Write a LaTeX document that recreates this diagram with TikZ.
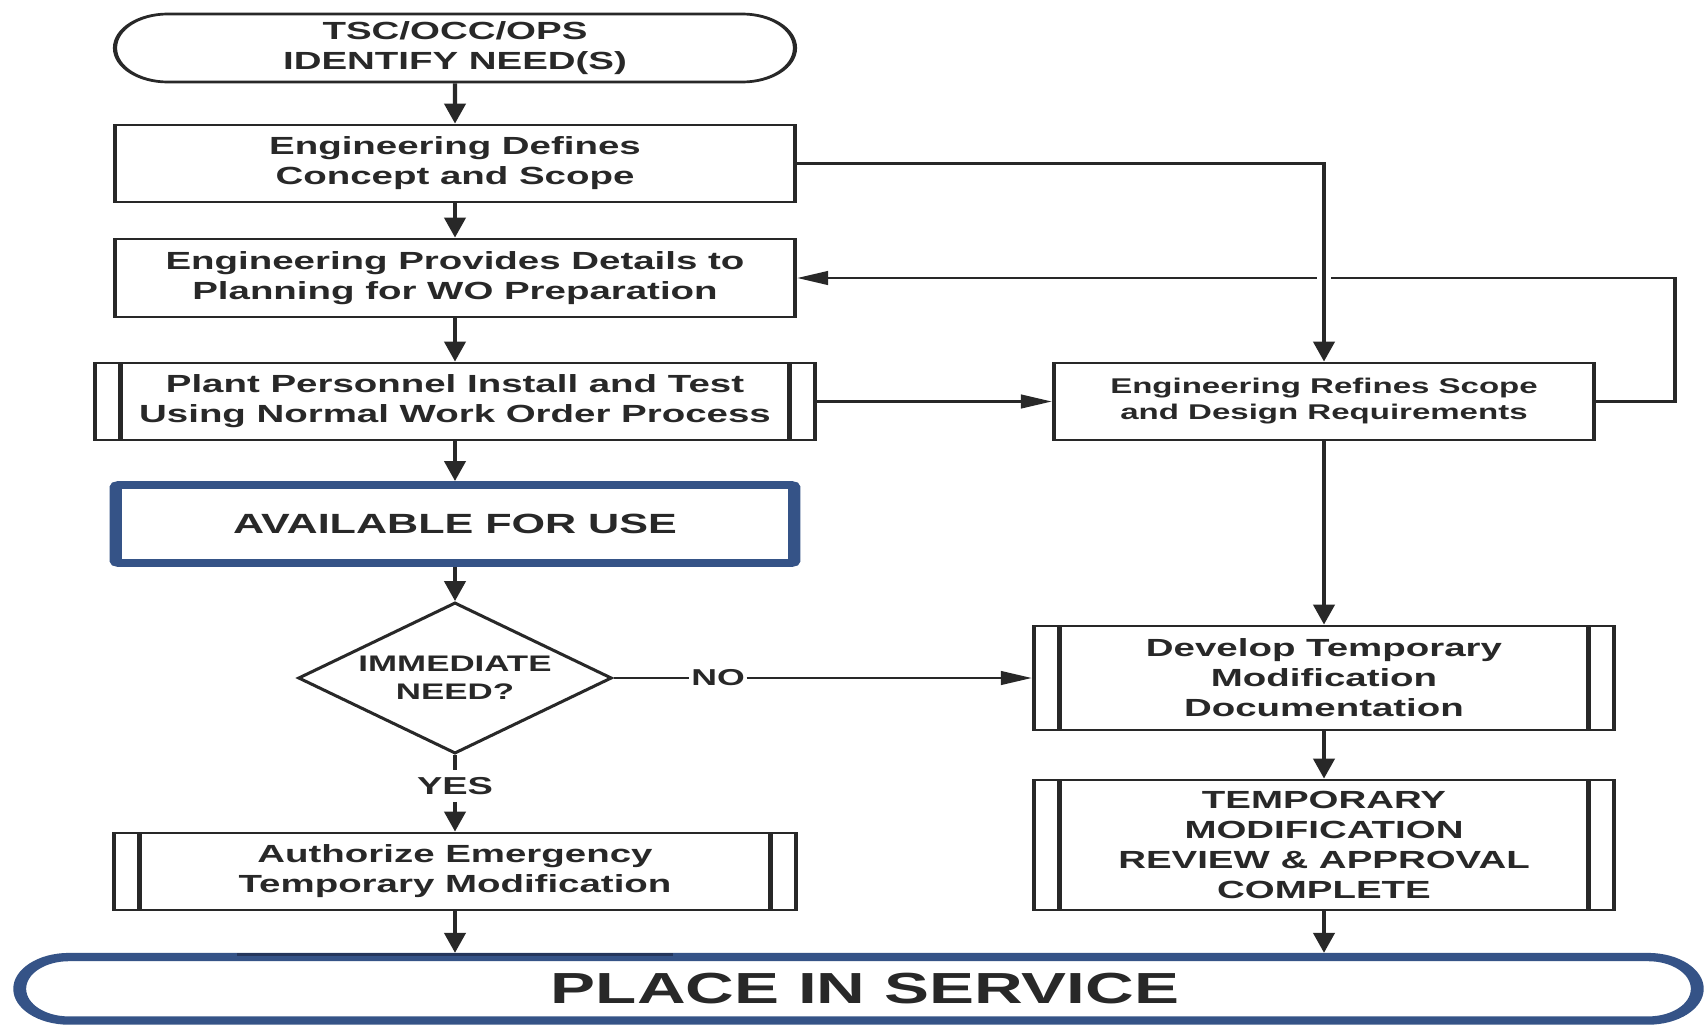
\documentclass[tikz,border=0pt]{standalone}
\usepackage{fontspec}
\setmainfont{Liberation Sans}
\usetikzlibrary{shapes.geometric,shapes.misc,arrows.meta,calc}
\definecolor{ink}{RGB}{40,40,40}
\definecolor{navy}{RGB}{53,83,135}
\definecolor{navydark}{RGB}{36,54,92}
\tikzset{
  base/.style={draw=ink, line width=2.7pt, text=ink, fill=white, align=center, inner sep=0pt,
    font=\bfseries\fontsize{24.8}{30}\selectfont},
  stepbox/.style={base, rectangle},
  procbox/.style={base, rectangle,
    path picture={\draw[ink, line width=2.7pt]
      ([xshift=16.5pt]path picture bounding box.north west) -- ([xshift=16.5pt]path picture bounding box.south west)
      ([xshift=-16.5pt]path picture bounding box.north east) -- ([xshift=-16.5pt]path picture bounding box.south east);}},
  termbox/.style={base, rounded rectangle},
  decision/.style={base, diamond},
  lbl/.style={text=ink, inner sep=0pt},
  conn/.style={draw=ink, line width=2.7pt},
  arr/.style={conn, -{Triangle[length=20pt,width=13.5pt]}},
}
\begin{document}
\begin{tikzpicture}
\fill[white] (0,0) rectangle (1707pt,-1025pt);
\useasboundingbox (0,0) rectangle (1707pt,-1025pt);
\begin{scope}[transform canvas={xscale=1.55}, x={(0.645161pt,0)}, y={(0,-1pt)}]
  % left column
  \node[termbox, minimum width=438.7pt, minimum height=68pt] (T) at (455,48) {TSC/OCC/OPS\\IDENTIFY NEED(S)};
  \node[stepbox, minimum width=438.7pt, minimum height=77pt] (B2) at (455,163.5) {Engineering Defines\\Concept and Scope};
  \node[stepbox, minimum width=438.7pt, minimum height=78pt] (B3) at (455,278) {Engineering Provides Details to\\Planning for WO Preparation};
  \node[procbox, minimum width=464.5pt, minimum height=77pt] (B4) at (455,401.5) {Plant Personnel Install and Test\\Using Normal Work Order Process};
  \node[stepbox, draw=navy, line width=7.8pt, rounded corners=2pt, minimum width=437.7pt, minimum height=78pt,
        font=\bfseries\fontsize{27.8}{32}\selectfont] (AV) at (455,524) {AVAILABLE FOR USE};
  \node[decision, minimum width=202.6pt, minimum height=151pt, aspect=1.34,
        font=\bfseries\fontsize{22.5}{28}\selectfont] (D) at (455,678) {IMMEDIATE\\NEED?};
  \node[lbl, font=\bfseries\fontsize{24.5}{28}\selectfont, inner ysep=7pt] (YES) at (455,786) {YES};
  \node[procbox, minimum width=440pt, minimum height=77pt] (A) at (455,871.5) {Authorize Emergency\\Temporary Modification};
  % right column
  \node[stepbox, minimum width=348.4pt, minimum height=77pt,
        font=\bfseries\fontsize{21.3}{26}\selectfont] (R1) at (1324,401.5) {Engineering Refines Scope\\and Design Requirements};
  \node[procbox, minimum width=374.2pt, minimum height=104pt] (R2) at (1324,678) {Develop Temporary\\Modification\\Documentation};
  \node[procbox, minimum width=374.2pt, minimum height=130pt] (R3) at (1324,845) {TEMPORARY\\MODIFICATION\\REVIEW \& APPROVAL\\COMPLETE};
  \node[lbl, font=\bfseries\fontsize{23}{28}\selectfont, inner xsep=1pt] (NO) at (718,678) {NO};
  % bottom terminal
  \node[termbox, draw=navy, line width=8.3pt, minimum width=1082.3pt, minimum height=63.5pt,
        font=\bfseries\fontsize{43.5}{50}\selectfont] (P) at (858.5,988.8) {\hspace*{8.4pt}PLACE IN SERVICE};
  \draw[navydark, line width=3pt] (237,954.5) -- (673,954.5);
  % connectors
  \draw[arr] (T) -- (B2);
  \draw[arr] (B2) -- (B3);
  \draw[arr] (B3) -- (B4);
  \draw[arr] (B4) -- (AV);
  \draw[arr] (AV) -- (D);
  \draw[conn] (D) -- (YES);
  \draw[arr] (YES) -- (A);
  \draw[arr] (A) -- (A.south |- P.north);
  \draw[arr] (R1.east) -- ++(79,0) |- (B3.east);
  \fill[white] ($(R1.north |- B3.east)+(-7,-3)$) rectangle ($(R1.north |- B3.east)+(7,3)$);
  \draw[arr] (B2.east) -| (R1.north);
  \draw[arr] (B4) -- (R1);
  \draw[arr] (R1) -- (R2);
  \draw[conn] (D) -- (NO);
  \draw[arr] (NO) -- (R2);
  \draw[arr] (R2) -- (R3);
  \draw[arr] (R3) -- (R3.south |- P.north);
\end{scope}
\end{tikzpicture}
\end{document}
